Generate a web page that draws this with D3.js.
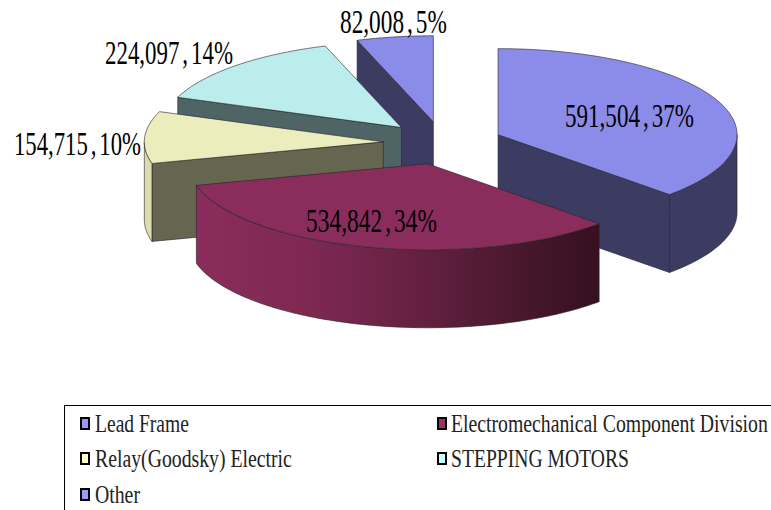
<!DOCTYPE html>
<html>
<head>
<style>
html, body { margin: 0; padding: 0; background: #fff; }
svg { display: block; }
svg text { font-family: "Liberation Serif"; fill: #000; }
</style>
</head>
<body>
<div id="container"></div>
<script src="https://d3js.org/d3.v7.min.js"></script>
<script>
const width = 771;
const height = 510;

const categories = ['Lead Frame', 'Electromechanical Component Division', 'Relay(Goodsky) Electric', 'STEPPING MOTORS', 'Other'];
const values = [591504, 534842, 154715, 224097, 82008];
const topColors = ['#8b8ce9', '#8b2d5c', '#ecedbd', '#bbeded', '#8b8ce9'];
const wallColors = ['#3c3c63', '#3b1325', '#666650', '#4f6565', '#3c3c63'];
const outerColors = ['#3c3c63', '#8b2d5c', '#dcdcae', '#4f6565', '#3c3c63'];
const legendColors = ['#9999ff', '#993366', '#ffffcc', '#ccffff', '#9999ff'];

// pie geometry
const cx = 443, cy = 143, rx = 239, ry = 86, depth = 78, explode = 0.25;

// label x, baseline, width - same order as values
const labelPos = [[565, 127, 129], [306, 232, 131], [14, 155, 127], [105, 64, 128], [340, 33, 107]];

const svg = d3.select('#container').append('svg').attr('width', width).attr('height', height);
const defs = svg.append('defs');

const pie = d3.pie().sort(null).startAngle(0).endAngle(2 * Math.PI);
const arcs = pie(values);
const total = d3.sum(values);
const fmt = d3.format(',');

const px = (c, a) => c + rx * Math.sin(a);
const py = (c, a) => c - ry * Math.cos(a);

arcs.forEach(d => {
    const mid = (d.startAngle + d.endAngle) / 2;
    d.cx = cx + explode * rx * Math.sin(mid);
    d.cy = cy - explode * ry * Math.cos(mid);
});

// outline along the rim, as straight little pieces
function rim(d, a0, a1, dy) {
    const n = Math.ceil((a1 - a0) / 0.02);
    return d3.range(n + 1).map(i => {
        const a = a0 + (a1 - a0) * i / n;
        return [px(d.cx, a), py(d.cy, a) + dy];
    });
}
const line = d3.line();

function radialWall(d, a) {
    return line([[d.cx, d.cy], [px(d.cx, a), py(d.cy, a)], [px(d.cx, a), py(d.cy, a) + depth], [d.cx, d.cy + depth]]) + 'Z';
}

// text in the picture is squeezed sideways, so scale it to the measured width
function squeezedText(str, x, y, w, size, wordSpacing) {
    const t = svg.append('text').attr('font-size', size).attr('word-spacing', wordSpacing).text(str);
    const natural = t.node().getComputedTextLength();
    t.attr('transform', `translate(${x},${y}) scale(${w / natural},1)`);
    return t;
}

// the electromechanical wall gets darker left to right
const grad = defs.append('linearGradient').attr('id', 'elecWall').attr('gradientUnits', 'userSpaceOnUse')
    .attr('x1', 197).attr('x2', 599).attr('y1', 0).attr('y2', 0);
[[0, '#8b2d5c'], [0.3, '#7c2851'], [0.6, '#5f1f3e'], [0.85, '#431629'], [1, '#361120']].forEach(s => {
    grad.append('stop').attr('offset', s[0]).attr('stop-color', s[1]);
});

const edgeColor = '#24242c';
const edgeWidth = 0.6;

// painted back to front
const order = [4, 3, 2, 0, 1];
order.forEach(i => {
    const d = arcs[i];
    const g = svg.append('g');

    // a flat side only shows when it faces the viewer
    const flat = [];
    if (Math.sin(d.startAngle) < -1e-6) flat.push(d.startAngle);
    if (Math.sin(d.endAngle) > 1e-6) flat.push(d.endAngle);
    flat.forEach(a => {
        g.append('path').attr('d', radialWall(d, a)).attr('fill', wallColors[i])
            .attr('stroke', edgeColor).attr('stroke-width', edgeWidth);
    });

    // same for the curved side, front half of the ellipse only
    const a0 = Math.max(d.startAngle, Math.PI / 2);
    const a1 = Math.min(d.endAngle, 3 * Math.PI / 2);
    if (a1 > a0) {
        const outer = rim(d, a0, a1, 0).concat(rim(d, a0, a1, depth).reverse());
        g.append('path').attr('d', line(outer) + 'Z')
            .attr('fill', i === 1 ? 'url(#elecWall)' : outerColors[i])
            .attr('stroke', edgeColor).attr('stroke-width', edgeWidth);
    }

    const top = [[d.cx, d.cy]].concat(rim(d, d.startAngle, d.endAngle, 0));
    g.append('path').attr('d', line(top) + 'Z').attr('fill', topColors[i])
        .attr('stroke', edgeColor).attr('stroke-width', edgeWidth);
});

// data labels
values.forEach((v, i) => {
    squeezedText(fmt(v) + ' , ' + Math.round(v / total * 100) + '%', labelPos[i][0], labelPos[i][1], labelPos[i][2], 33, -4);
});

// legend, box runs off the picture on the right and bottom
svg.append('path').attr('d', 'M771,405.5H64.5V510').attr('fill', 'none').attr('stroke', '#000');

const legendX = [81, 438], legendY = [432, 467, 503];
const legendTextX = [95, 451];
const legendWidth = [94, 317, 197, 178, 45];
categories.forEach((c, i) => {
    const col = i % 2, y = legendY[Math.floor(i / 2)];
    svg.append('rect').attr('x', legendX[col]).attr('y', y - 14).attr('width', 8).attr('height', 11)
        .attr('fill', legendColors[i]).attr('stroke', '#000').attr('stroke-width', 2);
    squeezedText(c, legendTextX[col], y, legendWidth[i], 25, 0).style('fill', '#222');
});
</script>
</body>
</html>
